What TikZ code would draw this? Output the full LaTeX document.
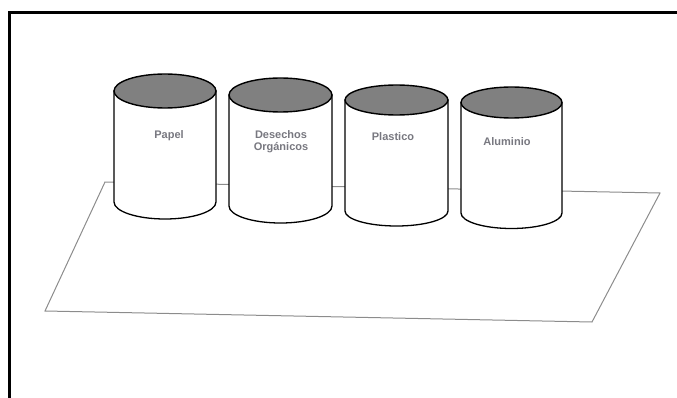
\documentclass[tikz,border=0pt]{standalone}
\usepackage{fontspec}
\setmainfont{Liberation Sans}
\begin{document}
\begin{tikzpicture}[x=1pt,y=1pt,
  frameline/.style={line width=3pt,line cap=rect},
  plane/.style={draw={rgb,255:red,140;green,140;blue,140},line width=1pt},
  body/.style={draw=black,line width=1.3pt,fill=white},
  lid/.style={draw=black,line width=1.4pt,fill={rgb,255:red,128;green,128;blue,128}},
  tag/.style={font=\bfseries\fontsize{11}{11.5}\selectfont,text={rgb,255:red,120;green,120;blue,128},align=center,inner sep=0pt}]
\useasboundingbox (0,0) rectangle (677,397);

% page frame (top and left edges)
\draw[frameline] (9.5,0) -- (9.5,384) -- (680,384);

% floor plane
\coordinate (p1) at (105,215);
\coordinate (p2) at (660,204);
\coordinate (p3) at (592,75);
\coordinate (p4) at (45,86);
\draw[plane] (p1) -- (p2) -- (p3) -- (p4) -- cycle;

% bins: \bin{left x}{right x}{lid centre y}{base centre y}{y radius}
\newcommand{\bin}[5]{%
  \path[body] (#1,#3) -- (#1,#4)
    arc[start angle=180,end angle=360,x radius={(#2-#1)/2},y radius=#5]
    -- (#2,#3) -- cycle;
  \path[lid] ({(#1+#2)/2},#3) ellipse[x radius={(#2-#1)/2},y radius=#5];
}
\bin{114}{216}{306}{195}{17}
\bin{229}{332}{302}{191}{17}
\bin{345}{448}{297}{186}{15}
\bin{461}{562}{294.5}{184}{15.5}

% labels
\node[tag] (papel) at (169,261) {Papel};
\node[tag] (organicos) at (281,255.5) {Desechos\\Orgánicos};
\node[tag] (plastico) at (393,260) {Plastico};
\node[tag] (aluminio) at (507,255) {Aluminio};
\end{tikzpicture}
\end{document}
